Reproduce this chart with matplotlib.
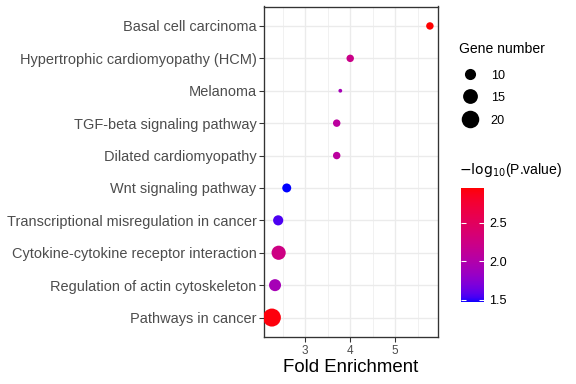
import numpy as np
import matplotlib
matplotlib.use("Agg")
import matplotlib.pyplot as plt
from matplotlib.colors import ListedColormap, Normalize
from matplotlib.lines import Line2D

plt.rcParams['font.family'] = ['Liberation Sans', 'DejaVu Sans']

pathways = ["Basal cell carcinoma", "Hypertrophic cardiomyopathy (HCM)", "Melanoma",
            "TGF-beta signaling pathway", "Dilated cardiomyopathy", "Wnt signaling pathway",
            "Transcriptional misregulation in cancer", "Cytokine-cytokine receptor interaction",
            "Regulation of actin cytoskeleton", "Pathways in cancer"]
fold_enrichment = [5.77, 4.00, 3.78, 3.70, 3.70, 2.59, 2.40, 2.41, 2.33, 2.26]
gene_number = [7, 7, 6, 7, 7, 8, 9, 14, 11, 21]
neg_log10_p = [2.96, 2.22, 1.92, 2.08, 2.08, 1.47, 1.55, 2.25, 1.92, 2.93]
size_breaks = [10, 15, 20]
color_ticks = [1.5, 2.0, 2.5]

# ---- Lab interpolation blue -> red (like ggplot scale_colour_gradient) ----
def srgb_to_lab(rgb):
    rgb = np.asarray(rgb, float)
    lin = np.where(rgb <= 0.04045, rgb / 12.92, ((rgb + 0.055) / 1.055) ** 2.4)
    M = np.array([[0.4124, 0.3576, 0.1805], [0.2126, 0.7152, 0.0722], [0.0193, 0.1192, 0.9505]])
    xyz = M @ lin
    wp = np.array([0.95047, 1.0, 1.08883])
    t = xyz / wp
    f = np.where(t > (6 / 29) ** 3, np.cbrt(t), t / (3 * (6 / 29) ** 2) + 4 / 29)
    return np.array([116 * f[1] - 16, 500 * (f[0] - f[1]), 200 * (f[1] - f[2])])

def lab_to_srgb(lab):
    L, a, b = lab
    fy = (L + 16) / 116
    fx = fy + a / 500
    fz = fy - b / 200
    def finv(f):
        return np.where(f > 6 / 29, f ** 3, 3 * (6 / 29) ** 2 * (f - 4 / 29))
    wp = np.array([0.95047, 1.0, 1.08883])
    xyz = np.array([finv(fx), finv(fy), finv(fz)]) * wp
    Minv = np.array([[3.2406, -1.5372, -0.4986], [-0.9689, 1.8758, 0.0415], [0.0557, -0.2040, 1.0570]])
    lin = Minv @ xyz
    lin = np.clip(lin, 0, 1)
    rgb = np.where(lin <= 0.0031308, 12.92 * lin, 1.055 * lin ** (1 / 2.4) - 0.055)
    return np.clip(rgb, 0, 1)

lab_lo = srgb_to_lab([0, 0, 1])
lab_hi = srgb_to_lab([1, 0, 0])
cols = [lab_to_srgb(lab_lo + (lab_hi - lab_lo) * t) for t in np.linspace(0, 1, 256)]
cmap = ListedColormap(cols)
vmin, vmax = min(neg_log10_p), max(neg_log10_p)
norm = Normalize(vmin=vmin, vmax=vmax)

# ---- size mapping like ggplot scale_size (range 1..6) ----
gmin, gmax = min(gene_number), max(gene_number)
def diam_pt(v):
    size = 1 + 5 * np.sqrt((np.asarray(v, float) - gmin) / (gmax - gmin))
    fs = 2.845 * size + 0.94
    return 0.75 * fs

W, H = 576, 384
fig = plt.figure(figsize=(6, 4), dpi=96)
ax = fig.add_axes([264 / W, 1 - 337 / H, (438 - 264) / W, (337 - 6.5) / H])

ypos = np.arange(len(pathways))[::-1] + 1
ax.set_axisbelow(True)
ax.scatter(fold_enrichment, ypos, s=diam_pt(gene_number) ** 2, c=neg_log10_p,
           cmap=cmap, norm=norm, linewidths=0, zorder=3)

ax.set_ylim(0.4, len(pathways) + 0.6)
ax.set_xlim(2.085, 5.95)
ax.set_yticks(ypos)
ax.set_yticklabels(pathways)
ax.set_xticks([3, 4, 5])
ax.set_xticks([2.5, 3.5, 4.5, 5.5], minor=True)
ax.grid(True, which='major', color='#EBEBEB', linewidth=1.0)
ax.grid(True, which='minor', axis='x', color='#EBEBEB', linewidth=0.5)
ax.tick_params(axis='both', which='major', length=3.7, width=0.8, color='#333333',
               labelcolor='#4D4D4D')
ax.tick_params(axis='y', labelsize=10.9, pad=2)
ax.tick_params(axis='x', labelsize=8.8, pad=2)
ax.tick_params(which='minor', length=0)
for sp in ax.spines.values():
    sp.set_color('#333333')
    sp.set_linewidth(1.0)
ax.set_xlabel("Fold Enrichment", fontsize=14, color='black', labelpad=2)

# ---- size legend ----
handles = [Line2D([], [], linestyle='none', marker='o', color='black',
                  markersize=diam_pt(b), markeredgewidth=0) for b in size_breaks]
leg = fig.legend(handles, [str(b) for b in size_breaks], title="Gene number",
                 loc='upper left', bbox_to_anchor=(459 / W, 1 - 42 / H), frameon=False,
                 fontsize=9.5, title_fontsize=10.5, handlelength=1.7, handletextpad=0.8,
                 handleheight=1.0, labelspacing=0.72, borderaxespad=0, borderpad=0)
leg._legend_box.align = "left"
leg._legend_box.sep = 10

# ---- colorbar ----
cax = fig.add_axes([461 / W, 1 - 302 / H, 23 / W, (302 - 187.7) / H])
sm = plt.cm.ScalarMappable(norm=norm, cmap=cmap)
cb = fig.colorbar(sm, cax=cax, ticks=color_ticks)
cb.outline.set_visible(False)
cb.ax.set_yticklabels([f"{t:.1f}" for t in color_ticks])
cax.tick_params(axis='y', direction='in', color='white', length=4, width=0.8,
                left=True, right=True, labelsize=9.5, pad=4)
fig.text(459 / W, 1 - 170 / H, r"$-\mathrm{log}_{10}$(P.value)", fontsize=10.5,
         va='center', ha='left')

fig.savefig("out.png", dpi=96)
